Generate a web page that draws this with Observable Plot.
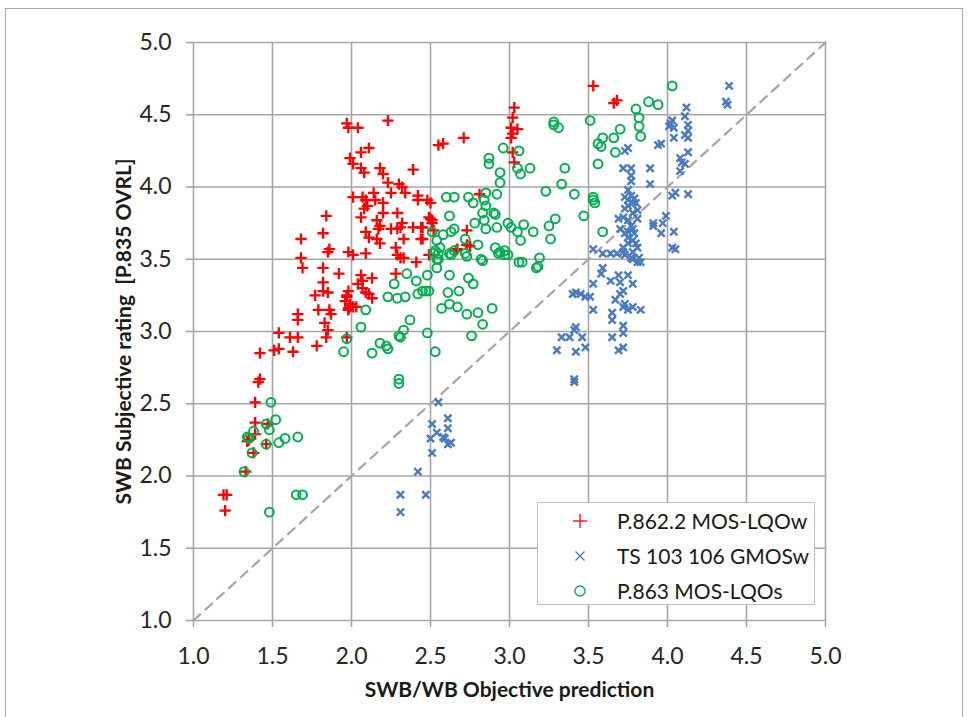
<!DOCTYPE html>
<html>
<head>
<meta charset="utf-8">
<script src="https://cdn.jsdelivr.net/npm/d3@7"></script>
<script src="https://cdn.jsdelivr.net/npm/@observablehq/plot@0.6"></script>
<style>
  body { margin: 0; background: #fff; }
  #wrap { position: relative; width: 970px; height: 717px; overflow: hidden; font-family: Lato, "Open Sans", sans-serif; }
  #frame { position: absolute; left: 5px; top: 8px; width: 958px; height: 720px; border: 1.5px solid #a9a9a9; box-sizing: border-box; pointer-events: none; }
  #legend { position: absolute; left: 537px; top: 502px; width: 278px; height: 103px; background: #fff; border: 1.5px solid #bfbfbf; box-sizing: border-box; }
  .row { position: absolute; left: 0; height: 35px; width: 100%; display: flex; align-items: center; font-size: 21px; color: #1a1a1a; }
  .row svg { position: absolute; left: 34px; }
  .row span { position: absolute; left: 79px; white-space: nowrap; }
</style>
</head>
<body>
<div id="wrap">
  <div id="chart"></div>
  <div id="legend"></div>
  <div id="frame"></div>
</div>
<script>
// ---- Data ----
const seriesNames = ["P.862.2 MOS-LQOw", "TS 103 106 GMOSw", "P.863 MOS-LQOs"];
const xTicks = [1.0, 1.5, 2.0, 2.5, 3.0, 3.5, 4.0, 4.5, 5.0];
const yTicks = [1.0, 1.5, 2.0, 2.5, 3.0, 3.5, 4.0, 4.5, 5.0];
const refLine = [1, 5];
const xLabel = "SWB/WB Objective prediction";
const yLabel = "SWB Subjective rating  [P.835 OVRL]";

const p862 = [
[1.19,1.87],[1.21,1.87],[1.20,1.76],
[1.33,2.03],[1.38,2.16],[1.35,2.25],[1.34,2.24],[1.39,2.37],[1.39,2.29],[1.46,2.22],[1.47,2.36],[1.39,2.51],
[1.41,2.65],[1.42,2.67],[1.42,2.85],[1.51,2.87],[1.54,2.88],[1.63,2.86],
[1.54,2.99],[1.61,2.96],[1.66,2.96],[1.66,3.12],[1.66,3.08],[1.78,2.90],
[1.83,3.06],[1.85,3.01],[1.84,2.96],[1.79,3.15],[1.86,3.15],[1.87,3.12],
[1.97,3.24],[1.98,3.16],[1.99,3.17],[1.97,2.96],
[2.11,4.27],[2.06,4.24],[1.99,4.20],[2.01,4.16],[2.06,4.13],[2.08,4.10],[2.18,4.13],[2.20,4.09],[2.39,4.12],
[2.23,4.03],[2.30,4.02],[2.32,4.00],[2.34,3.96],[2.25,3.96],
[2.42,3.94],[2.42,3.91],[2.48,3.91],[2.50,3.89],
[2.01,3.93],[2.07,3.93],[2.09,3.91],[2.10,3.87],[2.08,3.85],[2.14,3.96],[2.15,3.91],[2.20,3.89],[2.20,3.82],[2.06,3.79],
[2.29,3.82],[2.16,3.77],[2.18,3.73],[2.17,3.71],[2.25,3.71],[2.32,3.75],[2.31,3.72],[2.29,3.71],[2.39,3.72],[2.44,3.72],[2.50,3.78],[2.51,3.75],
[1.84,3.80],[1.82,3.68],[1.68,3.64],[2.09,3.69],[2.11,3.65],[2.16,3.64],[2.18,3.61],[2.44,3.64],[2.33,3.64],
[1.86,3.57],[1.85,3.55],[1.98,3.55],[2.01,3.53],[2.09,3.54],[2.28,3.58],[2.29,3.53],[2.31,3.51],[2.33,3.51],[2.41,3.48],[2.49,3.53],
[1.68,3.51],[1.69,3.44],[1.82,3.44],[1.92,3.40],[2.06,3.39],[2.07,3.35],[2.13,3.37],[2.28,3.40],
[1.82,3.34],[1.82,3.28],[1.85,3.27],[2.04,3.33],[2.07,3.30],[2.09,3.27],[2.11,3.26],
[1.98,3.28],[1.97,3.25],[1.96,3.21],[1.99,3.19],[2.01,3.17],[1.98,3.15],[2.03,3.17],[1.77,3.25],
[1.97,4.44],[1.98,4.41],[2.04,4.41],[2.23,4.46],[2.55,4.29],[2.58,4.30],[2.71,4.34],
[3.03,4.55],[3.02,4.48],[3.01,4.41],[3.05,4.40],[3.02,4.37],[3.01,4.34],[3.02,4.24],[3.03,4.17],
[2.81,3.95],[2.73,3.70],[2.75,3.59],[2.67,3.57],[2.49,3.79],[2.51,3.77],[2.52,3.70],[2.45,3.72],[2.45,3.64],[2.73,3.60],[2.66,3.56],
[3.53,4.70],[3.66,4.58],[3.68,4.60],[2.13,3.23]
];

const ts103 = [
[2.55,2.51],[2.51,2.36],[2.61,2.40],[2.61,2.33],[2.54,2.30],[2.58,2.27],[2.59,2.26],[2.50,2.26],[2.63,2.23],[2.61,2.22],[2.51,2.16],[2.42,2.03],[2.31,1.87],[2.47,1.87],[2.31,1.75],
[3.33,2.96],[3.38,2.96],[3.30,2.87],[3.41,2.67],[3.41,2.65],
[4.12,4.55],[4.11,4.49],[4.03,4.46],[4.02,4.44],[4.01,4.42],[4.04,4.41],[4.13,4.43],[4.13,4.39],[4.11,4.36],[4.13,4.34],[4.04,4.34],[3.96,4.30],[3.94,4.29],[3.75,4.27],[3.73,4.25],
[4.13,4.24],[4.08,4.20],[4.09,4.17],[4.11,4.16],[4.08,4.11],[3.72,4.13],[3.77,4.13],[3.89,4.13],[3.77,4.08],[3.77,4.04],[3.89,4.02],[4.03,3.94],[4.05,3.96],[4.13,3.95],
[3.75,3.98],[3.77,3.94],[3.73,3.93],[3.79,3.92],[3.75,3.91],[3.78,3.89],[3.75,3.87],[3.80,3.89],[3.73,3.85],[3.81,3.84],[3.78,3.82],[3.72,3.79],[3.69,3.78],[3.75,3.77],[3.81,3.78],[3.77,3.73],[3.78,3.71],[3.75,3.69],[3.70,3.71],[3.73,3.68],[3.79,3.68],[3.75,3.65],[3.78,3.63],[3.80,3.61],[3.75,3.61],[3.72,3.58],[3.81,3.58],[3.78,3.55],[3.82,3.51],[3.83,3.48],
[3.91,3.75],[3.91,3.73],[3.96,3.68],[3.99,3.80],[3.97,3.75],[4.04,3.69],[4.03,3.58],[4.05,3.57],
[3.53,3.57],[3.59,3.54],[3.64,3.54],[3.68,3.54],[3.72,3.55],[3.73,3.53],[3.77,3.51],[3.78,3.50],[3.81,3.48],
[3.59,3.44],[3.58,3.40],[3.53,3.33],[3.64,3.35],[3.69,3.39],[3.75,3.39],[3.70,3.34],[3.78,3.33],[3.72,3.28],[3.70,3.26],[3.67,3.22],[3.73,3.19],[3.72,3.17],[3.75,3.15],[3.78,3.17],[3.83,3.15],[3.53,3.15],[3.65,3.13],[3.65,3.08],
[3.42,3.27],[3.45,3.26],[3.48,3.24],[3.51,3.24],[3.40,3.26],[3.42,3.03],[3.41,3.01],[3.46,2.96],[3.48,2.89],[3.42,2.86],[3.65,2.96],[3.72,3.04],[3.72,2.99],[3.69,2.87],[3.72,2.89],
[4.39,4.70],[4.37,4.59],[4.38,4.57]
];

const p863 = [
[2.09,3.15],[2.06,3.03],[1.97,2.95],[1.95,2.86],[2.13,2.85],[2.18,2.92],
[1.49,2.51],[1.52,2.39],[1.46,2.36],[1.48,2.32],[1.38,2.31],[1.34,2.27],[1.35,2.26],[1.37,2.16],[1.46,2.22],[1.54,2.23],[1.58,2.26],[1.66,2.27],[1.32,2.03],[1.65,1.87],[1.69,1.87],[1.48,1.75],
[2.55,3.54],[2.63,3.53],[2.73,3.52],[2.83,3.49],[2.93,3.54],[2.97,3.53],[3.06,3.48],[3.08,3.48],[3.18,3.45],[3.19,3.51],
[2.54,3.50],[2.54,3.44],[2.35,3.40],[2.41,3.35],[2.48,3.39],[2.62,3.39],[2.74,3.37],[2.77,3.33],[2.27,3.33],
[2.23,3.24],[2.29,3.23],[2.34,3.24],[2.42,3.26],[2.45,3.28],[2.47,3.28],[2.49,3.28],[2.61,3.27],[2.68,3.28],
[2.62,3.19],[2.57,3.16],[2.67,3.17],[2.73,3.12],[2.80,3.13],[2.89,3.16],[2.83,3.05],[2.37,3.08],[2.33,3.01],[2.30,2.97],[2.31,2.96],[2.48,2.99],[2.76,2.97],[2.22,2.90],[2.23,2.88],[2.53,2.86],[2.30,2.67],[2.30,2.64],
[2.87,4.20],[2.87,4.16],[2.94,4.10],[2.94,4.03],[3.05,4.13],[3.07,4.09],[3.13,4.13],[3.35,4.13],[3.33,4.02],[3.23,3.97],[3.41,3.95],
[2.60,3.93],[2.65,3.93],[2.74,3.93],[2.77,3.89],[2.85,3.96],[2.92,3.95],[2.84,3.91],[2.85,3.87],[2.83,3.82],[2.90,3.82],[2.91,3.81],[2.62,3.80],
[2.78,3.75],[2.84,3.77],[2.85,3.71],[2.92,3.72],[2.99,3.75],[3.01,3.72],[3.09,3.74],[3.05,3.69],[3.15,3.69],[3.07,3.63],[3.25,3.73],[3.29,3.78],[3.26,3.64],
[2.65,3.71],[2.63,3.69],[2.58,3.67],[2.54,3.63],[2.56,3.58],[2.53,3.56],[2.52,3.54],[2.72,3.64],[2.80,3.60],[2.72,3.54],[2.62,3.54],[2.65,3.56],[2.55,3.50],
[2.91,3.58],[2.94,3.55],[2.97,3.56],[2.99,3.53],[2.82,3.50],[3.17,3.44],[2.51,3.69],
[2.96,4.27],[3.06,4.25],
[4.03,4.70],[3.80,4.54],[3.88,4.59],[3.94,4.57],[3.82,4.48],[3.82,4.42],[3.83,4.35],[3.51,4.46],[3.28,4.45],[3.28,4.43],[3.31,4.41],[3.70,4.40],[3.66,4.34],[3.59,4.34],[3.56,4.30],[3.58,4.28],[3.67,4.24],[3.56,4.16],[3.53,3.93],[3.53,3.91],[3.54,3.89],[3.47,3.80],[3.59,3.69]
];

const colors = ["#ff0000", "#4a7bc1", "#00b050"];

// ---- Custom stroke symbols (r = half extent) ----
const plusSym = { draw(ctx, size) { const r = Math.sqrt(size / Math.PI); ctx.moveTo(-r, 0); ctx.lineTo(r, 0); ctx.moveTo(0, -r); ctx.lineTo(0, r); } };
const timesSym = { draw(ctx, size) { const r = Math.sqrt(size / Math.PI); ctx.moveTo(-r, -r); ctx.lineTo(r, r); ctx.moveTo(-r, r); ctx.lineTo(r, -r); } };

const grid = "#a6a6a6";

const chart = Plot.plot({
  width: 970,
  height: 717,
  marginLeft: 193,
  marginRight: 145,
  marginTop: 42,
  marginBottom: 97,
  style: { fontFamily: "Lato, 'Open Sans', sans-serif", fontSize: "23px", color: "#262626", background: "transparent" },
  x: { domain: [1, 5] },
  y: { domain: [1, 5] },
  marks: [
    Plot.gridX(xTicks, { stroke: grid, strokeOpacity: 1, strokeWidth: 1.6 }),
    Plot.gridY(yTicks, { stroke: grid, strokeOpacity: 1, strokeWidth: 1.6 }),
    Plot.axisX(xTicks, { tickFormat: d => d.toFixed(1), tickSize: 7, tickPadding: 20, stroke: grid, strokeWidth: 1.6, label: null }),
    Plot.axisY(yTicks, { tickFormat: d => d.toFixed(1), tickSize: 7, tickPadding: 15, stroke: grid, strokeWidth: 1.6, label: null }),
    Plot.line(refLine, { x: d => d, y: d => d, stroke: "#a6a6a6", strokeWidth: 2.2, strokeDasharray: "9,7" }),
    Plot.dot(p862, { x: d => d[0], y: d => d[1], symbol: plusSym, r: 5.6, stroke: colors[0], strokeWidth: 2.3, fill: "none" }),
    Plot.dot(ts103, { x: d => d[0], y: d => d[1], symbol: timesSym, r: 3.6, stroke: colors[1], strokeWidth: 2.4, fill: "none" }),
    Plot.dot(p863, { x: d => d[0], y: d => d[1], symbol: "circle", r: 4.4, stroke: colors[2], strokeWidth: 2, fill: "none" }),
    Plot.text([xLabel], { frameAnchor: "bottom", textAnchor: "middle", lineAnchor: "middle", dy: 70, fontWeight: "bold", fontSize: 21, fill: "#1a1a1a" }),
    Plot.text([yLabel], { frameAnchor: "left", textAnchor: "middle", lineAnchor: "middle", dx: -69, rotate: -90, fontWeight: "bold", fontSize: 21, fill: "#1a1a1a" })
  ]
});
document.getElementById("chart").appendChild(chart);

// ---- Legend ----
const legend = document.getElementById("legend");
const legendGlyphs = [
  `<line x1="1" y1="8" x2="15" y2="8"/><line x1="8" y1="1" x2="8" y2="15"/>`,
  `<line x1="3.5" y1="3.5" x2="12.5" y2="12.5"/><line x1="3.5" y1="12.5" x2="12.5" y2="3.5"/>`,
  `<circle cx="8" cy="8" r="5"/>`
];
seriesNames.forEach((name, i) => {
  const row = document.createElement("div");
  row.className = "row";
  row.style.top = (i * 35) + "px";
  row.innerHTML = `<svg width="16" height="16" viewBox="0 0 16 16" fill="none" stroke="${colors[i]}" stroke-width="1.3">${legendGlyphs[i]}</svg><span>${name}</span>`;
  legend.appendChild(row);
});
</script>
</body>
</html>
